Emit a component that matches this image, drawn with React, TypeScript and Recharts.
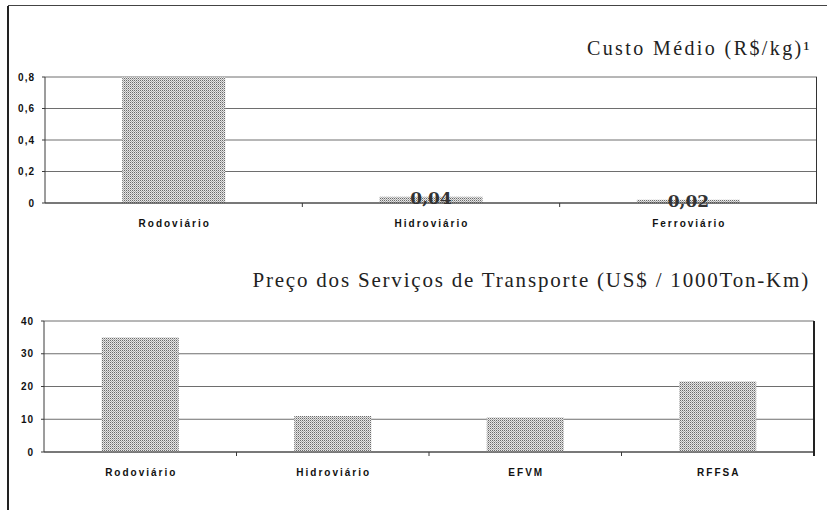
import { Bar, BarChart, CartesianGrid, LabelList, XAxis, YAxis } from "recharts"

const MODAIS_CUSTO = ["Rodoviário", "Hidroviário", "Ferroviário"]
const CUSTO_MEDIO = [0.8, 0.04, 0.02]
const ROTULOS_CUSTO = ["", "0,04", "0,02"]
const TICKS_CUSTO = [0, 0.2, 0.4, 0.6, 0.8]

const MODAIS_PRECO = ["Rodoviário", "Hidroviário", "EFVM", "RFFSA"]
const PRECO_SERVICO = [35, 11, 10.5, 21.5]
const TICKS_PRECO = [0, 10, 20, 30, 40]

const SANS = "'Liberation Sans', Arial, sans-serif"
const SERIF = "'Liberation Serif', 'Times New Roman', serif"
const LINHA = "#3a3a3a"
const GRADE = "#6e6e6e"

const dadosCusto = MODAIS_CUSTO.map((modal, i) => ({
  modal,
  valor: CUSTO_MEDIO[i],
}))
const dadosPreco = MODAIS_PRECO.map((modal, i) => ({
  modal,
  valor: PRECO_SERVICO[i],
}))

function decimal(v: number) {
  return v === 0 ? "0" : v.toFixed(1).replace(".", ",")
}

// rótulo da categoria + tracinho na divisa entre categorias (estilo Excel)
function CategoriaTick(props: any) {
  const { x, y, payload, index } = props
  const meia = payload?.offset ?? 0
  return (
    <g>
      {index > 0 && (
        <line x1={x - meia} x2={x - meia} y1={y} y2={y + 4} stroke={LINHA} />
      )}
      <text
        x={x + 1}
        y={y + 20}
        textAnchor="middle"
        dominantBaseline="central"
        fill="#111"
        style={{ fontFamily: SANS, fontSize: 10, fontWeight: 700, letterSpacing: 2 }}
      >
        {payload.value}
      </text>
    </g>
  )
}

function RotuloValor(props: any) {
  const { x, y, width, index } = props
  const texto = ROTULOS_CUSTO[index]
  if (!texto) return null
  return (
    <text
      x={x + width / 2}
      y={y + 1}
      textAnchor="middle"
      dominantBaseline="central"
      fill="#333"
      style={{ fontFamily: "'DejaVu Serif', serif", fontSize: 17, fontWeight: 700 }}
    >
      {texto}
    </text>
  )
}

const tickY = {
  fontSize: 10,
  fontWeight: 700,
  fill: "#111",
  fontFamily: SANS,
  letterSpacing: 1,
}

export default function App() {
  return (
    <div
      style={{
        position: "absolute",
        left: 0,
        top: 0,
        width: 827,
        height: 510,
        background: "#fff",
        overflow: "hidden",
      }}
    >
      <svg width={0} height={0} style={{ position: "absolute" }}>
        <defs>
          <pattern id="pontilhado" width={2} height={2} patternUnits="userSpaceOnUse">
            <rect width={2} height={2} fill="#e6e6e6" />
            <rect width={1} height={1} fill="#6a6a6a" />
            <rect x={1} y={1} width={1} height={1} fill="#ababab" />
          </pattern>
        </defs>
      </svg>

      {/* moldura */}
      <div style={{ position: "absolute", left: 7, top: 6, width: 2, height: 504, background: "#222" }} />
      <div style={{ position: "absolute", left: 8, top: 5, width: 819, height: 1, background: "#444" }} />

      <div
        style={{
          position: "absolute",
          right: 15,
          top: 38,
          fontFamily: SERIF,
          fontSize: 20,
          lineHeight: "20px",
          letterSpacing: 2.4,
          color: "#222",
          whiteSpace: "nowrap",
        }}
      >
        Custo Médio (R$/kg)¹
      </div>

      <div
        style={{
          position: "absolute",
          right: 17,
          top: 270,
          fontFamily: SERIF,
          fontSize: 21,
          lineHeight: "21px",
          letterSpacing: 1.8,
          color: "#222",
          whiteSpace: "nowrap",
        }}
      >
        Preço dos Serviços de Transporte (US$ / 1000Ton-Km)
      </div>

      <div style={{ position: "absolute", left: 0, top: 0 }}>
        <BarChart
          width={827}
          height={240}
          data={dadosCusto}
          margin={{ top: 77, right: 10, bottom: 0, left: 0 }}
          barCategoryGap="30%"
        >
          <CartesianGrid vertical={false} stroke={GRADE} />
          <XAxis
            dataKey="modal"
            height={37}
            tickSize={0}
            tickMargin={0}
            tickLine={false}
            axisLine={{ stroke: LINHA }}
            tick={<CategoriaTick />}
            interval={0}
          />
          <YAxis
            width={45}
            domain={[0, 0.8]}
            ticks={TICKS_CUSTO}
            tickFormatter={decimal}
            tick={tickY}
            tickSize={3}
            tickMargin={7}
            tickLine={{ stroke: LINHA }}
            axisLine={{ stroke: LINHA }}
          />
          <Bar dataKey="valor" fill="url(#pontilhado)" isAnimationActive={false}>
            <LabelList dataKey="valor" content={<RotuloValor />} />
          </Bar>
        </BarChart>
      </div>
      {/* borda direita da área de plotagem (gráfico 1) */}
      <div style={{ position: "absolute", left: 816, top: 77, width: 1, height: 127, background: "#333" }} />

      <div style={{ position: "absolute", left: 0, top: 240 }}>
        <BarChart
          width={827}
          height={270}
          data={dadosPreco}
          margin={{ top: 81, right: 13, bottom: 0, left: 0 }}
          barCategoryGap="30%"
        >
          <CartesianGrid vertical={false} stroke={GRADE} />
          <XAxis
            dataKey="modal"
            height={58}
            tickSize={0}
            tickMargin={0}
            tickLine={false}
            axisLine={{ stroke: LINHA }}
            tick={<CategoriaTick />}
            interval={0}
          />
          <YAxis
            width={44}
            domain={[0, 40]}
            ticks={TICKS_PRECO}
            tick={tickY}
            tickSize={3}
            tickMargin={7}
            tickLine={{ stroke: LINHA }}
            axisLine={{ stroke: LINHA }}
          />
          <Bar dataKey="valor" fill="url(#pontilhado)" isAnimationActive={false} />
        </BarChart>
      </div>
      {/* borda direita da área de plotagem (gráfico 2) */}
      <div style={{ position: "absolute", left: 813, top: 321, width: 2, height: 135, background: "#222" }} />
    </div>
  )
}
